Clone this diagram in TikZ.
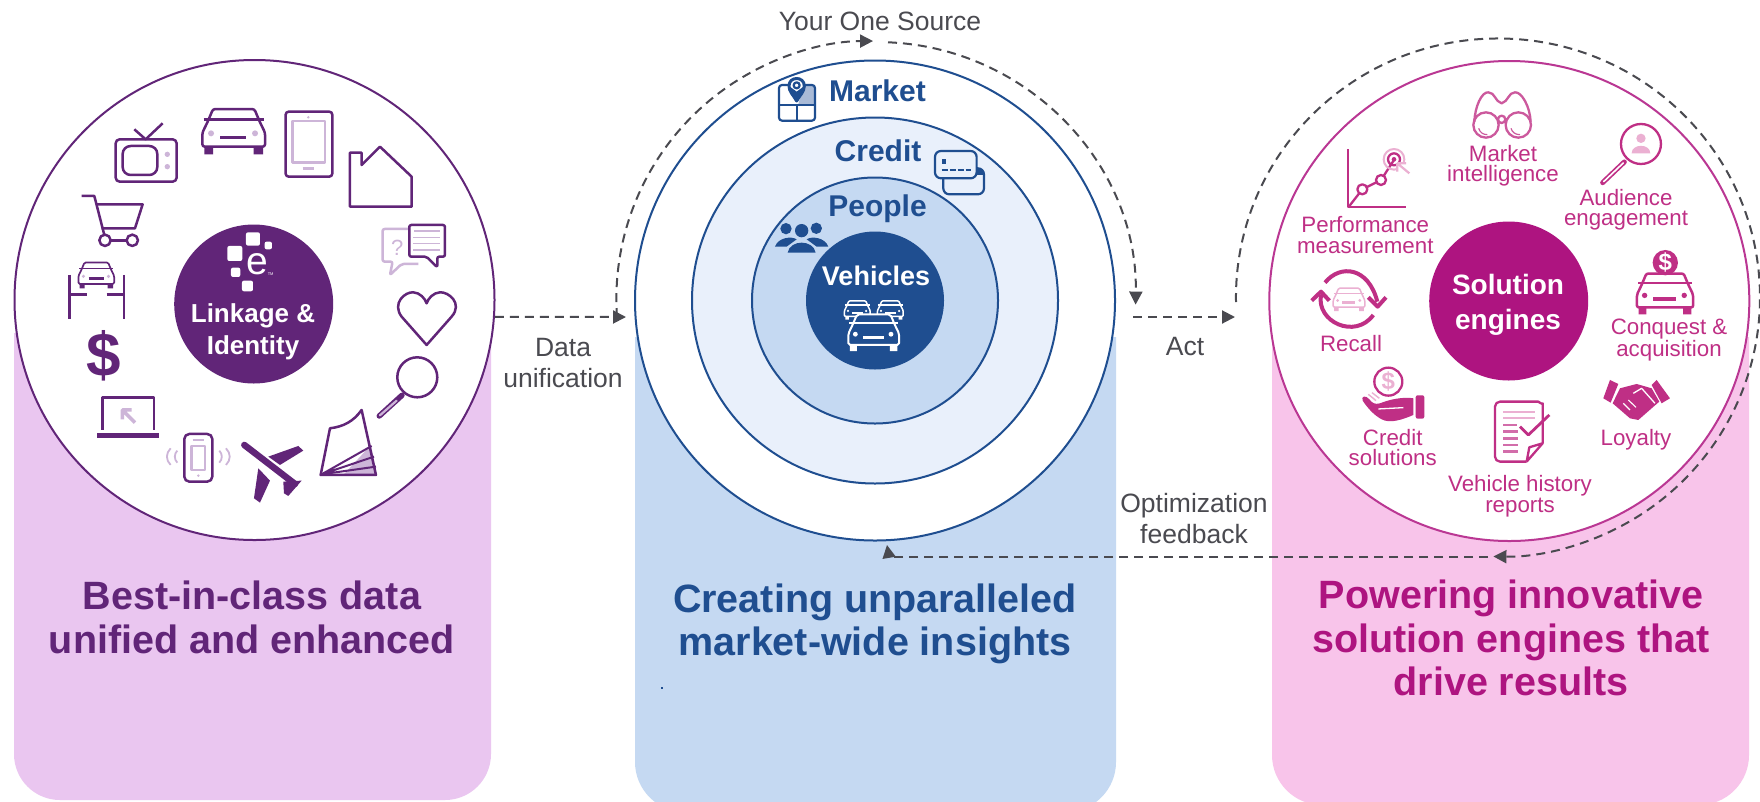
\documentclass[tikz,border=0pt]{standalone}
\usepackage{fontspec}
\setmainfont{Liberation Sans}
\usetikzlibrary{arrows.meta}
\definecolor{purp}{HTML}{612578}
\definecolor{purpl}{HTML}{CDB5D8}
\definecolor{purpp}{HTML}{EAC6F0}
\definecolor{blu}{HTML}{1F4E90}
\definecolor{blum}{HTML}{C5D9F2}
\definecolor{blul}{HTML}{E9F0FB}
\definecolor{blug}{HTML}{A9BAD6}
\definecolor{mag}{HTML}{AE1480}
\definecolor{magt}{HTML}{BF2F85}
\definecolor{magl}{HTML}{EBB0D2}
\definecolor{magp}{HTML}{F8C4EA}
\definecolor{gry}{HTML}{4A4A50}
\newcommand{\carfront}[7]{%
\begin{scope}[shift={(#1,#2)},x=#3pt,y=-#3pt,line width=#6pt,line join=round]
\filldraw[draw=#4,fill=#7,rounded corners=#3*7pt] (-94,47) -- (-94,5) -- (-78,-28) -- (-62,-66) -- (62,-66) -- (78,-28) -- (94,5) -- (94,47) -- cycle;
\draw[draw=#4] (-90,-35) -- (90,-35);
\fill[#4] (-88,47) rectangle (-62,70) (60,47) rectangle (88,70);
\fill[#5] (-68,7) circle[radius=9] (64,7) circle[radius=9];
\draw[draw=#4,line width=1.4*#6pt] (-40,19) -- (38,19);
\end{scope}}
\tikzset{
 discpurp/.style={circle,draw=purp,fill=white,line width=2pt,minimum size=480pt,inner sep=0pt},
 discblue/.style={circle,draw=blu,line width=2pt,inner sep=0pt},
 discmag/.style={circle,draw=mag!85!white,fill=white,line width=2pt,minimum size=480pt,inner sep=0pt},
 lab/.style={anchor=base,inner sep=0pt,align=center},
 graylab/.style={lab,text=gry,font=\fontsize{26.5}{31}\selectfont},
 maglab/.style={lab,text=magt,font=\fontsize{22.3}{20.5}\selectfont},
 titlepurp/.style={lab,text=purp,font=\bfseries\fontsize{39.5}{44}\selectfont},
 titleblue/.style={lab,text=blu,font=\bfseries\fontsize{39.5}{43}\selectfont},
 titlemag/.style={lab,text=mag,font=\bfseries\fontsize{39.5}{43.5}\selectfont},
 ringlab/.style={lab,text=blu,font=\bfseries\fontsize{30}{32}\selectfont},
 flow/.style={draw=gry,line width=2pt,dash pattern=on 9pt off 6pt},
 flowtip/.style={flow,-{Triangle[length=13pt,width=13pt,fill=gry]}},
 ico/.style={shift={(0,60)},x=0.3333pt,y=-0.3333pt,line join=round},
 zoomb/.style={shift={(620,0)},x=0.3333pt,y=-0.3333pt,line join=round},
 zoomc/.style={shift={(1240,60)},x=0.3333pt,y=-0.3333pt,line join=round},
}
\begin{document}
\begin{tikzpicture}[x=1pt,y=-1pt]
\useasboundingbox (0,0) rectangle (1760,801);
\fill[white] (0,0) rectangle (1760,801);
% panels
\fill[purpp] (14,333) {[rounded corners=46pt] -- (14,800) -- (491,800)} -- (491,333) -- cycle;
\fill[blum] (635,337) {[rounded corners=50pt] -- (635,812) -- (1116,812)} -- (1116,337) -- cycle;
\fill[magp] (1272,337) {[rounded corners=50pt] -- (1272,805) -- (1749,805)} -- (1749,337) -- cycle;
% discs
\node[discpurp] (src) at (254.5,300) {};
\node[discblue,fill=white,minimum size=480pt] (mkt) at (875,300.5) {};
\node[discblue,fill=blul,minimum size=366pt] (crd) at (875,300.5) {};
\node[discblue,fill=blum,minimum size=246pt] (ppl) at (875,300.5) {};
\node[circle,fill=blu,inner sep=0pt,minimum size=138pt] (veh) at (875,300.5) {};
\node[discmag] (sol) at (1509.3,301) {};
\node[circle,fill=purp,inner sep=0pt,minimum size=159pt] (lnk) at (253.7,304) {};
\node[circle,fill=mag,inner sep=0pt,minimum size=159pt] (eng) at (1508.7,301) {};
% connectors
\coordinate (duEnd) at (626,317);
\coordinate (arcA) at (617,317);
\coordinate (arcB) at (888,42.3);
\coordinate (actA) at (1133,317);
\coordinate (actB) at (1235,317);
\coordinate (bigA) at (1236,302);
\coordinate (fbA) at (1488,557);
\coordinate (fbB) at (889,557);
\coordinate (fbC) at (887,545);
\draw[flowtip] (src.-4) -- (duEnd);
\draw[flow,-{Triangle[length=13pt,width=13pt,fill=gry]}] (arcA) arc[start angle=184,end angle=90.3,radius=258pt];
\draw[flowtip] (arcB) arc[start angle=87.7,end angle=-1,radius=258pt];
\draw[flowtip] (actA) -- (actB);
\draw[flowtip] (bigA) arc[start angle=181,end angle=-91,x radius=262pt,y radius=259pt];
\draw[flowtip] (fbA) -- (fbB) -- (fbC);
% left icons
\begin{scope}[ico,draw=purp,line width=2.5pt]
 \draw[rounded corners=4pt] (347,238) rectangle (530,365);
 \draw[rounded corners=8pt] (368,258) rectangle (472,345);
 \draw (403,208) -- (437,238) -- (488,190);
 \fill[purpl] (502,283) circle[radius=8] (502,320) circle[radius=8];
 \draw[rounded corners=3pt] (857,155) rectangle (997,350);
 \draw[purpl] (878,183) rectangle (975,308);
 \fill[purpl] (925,172) circle[radius=4];
 \draw[purpl] (908,325) -- (943,325);
 \draw (1050,278) -- (1085,278) -- (1085,315) -- (1140,260) -- (1235,350) -- (1235,440) -- (1050,440) -- cycle;
 \draw[purpl,rounded corners=2pt] (1225,507) -- (1148,507) -- (1148,605) -- (1178,605) -- (1170,645) -- (1205,612) -- (1255,612);
 \node[text=purpl,font=\fontsize{22}{22}\selectfont,inner sep=0pt] (qmark) at (1192,562) {?};
 \draw[rounded corners=2pt] (1228,495) -- (1335,495) -- (1335,590) -- (1312,590) -- (1312,622) -- (1280,590) -- (1228,590) -- cycle;
 \draw[purpl,line width=1.6pt] (1243,513) -- (1320,513) (1240,532) -- (1320,532) (1240,551) -- (1320,551) (1240,570) -- (1320,570);
 \draw (1280,855) -- (1205,770) .. controls (1175,730) and (1215,695) .. (1240,697) .. controls (1260,698) and (1275,715) .. (1280,730) .. controls (1285,715) and (1300,698) .. (1320,697) .. controls (1345,695) and (1390,730) .. (1355,770) -- cycle;
 \draw (1252,952) circle[radius=60];
 \draw[line width=5.5pt,line cap=round] (1138,1068) -- (1206,1006);
 \draw[purpl,line width=2.2pt,line cap=round] (1140,1066) -- (1190,1022);
 \fill[purpl] (1030,1245) -- (1130,1245) -- (1113,1155) -- cycle;
 \draw (990,1105) .. controls (1030,1100) and (1060,1085) .. (1085,1050) -- (1128,1245) -- (962,1245) -- cycle;
 \draw[line width=2pt] (965,1243) -- (1115,1158) (965,1243) -- (1122,1190) (965,1243) -- (1128,1220);
 \draw[line width=6.5pt,line cap=round] (733,1155) -- (885,1272);
 \fill[purp] (805,1190) -- (895,1158) -- (910,1172) -- (840,1215) -- cycle;
 \fill[purp] (775,1225) -- (810,1262) -- (780,1328) -- (762,1315) -- cycle;
 \fill[purp] (850,1265) -- (905,1262) -- (865,1308) -- (852,1300) -- cycle;
 \draw[rounded corners=5pt] (553,1122) rectangle (637,1265);
 \draw[purpl] (575,1158) rectangle (615,1230);
 \draw[purpl] (578,1140) -- (612,1140);
 \fill[purpl] (595,1247) circle[radius=4];
 \draw[purpl,line width=1.8pt] (512,1165) .. controls (497,1180) and (497,1200) .. (512,1215) (532,1172) .. controls (522,1182) and (522,1198) .. (532,1208) (658,1172) .. controls (668,1182) and (668,1198) .. (658,1208) (678,1165) .. controls (693,1180) and (693,1200) .. (678,1215);
 \draw (308,1110) -- (308,1012) -- (462,1012) -- (462,1110);
 \draw[line width=4.5pt] (292,1126) -- (478,1126);
 \draw[purpl,line width=3.5pt] (405,1088) -- (367,1050) (367,1078) -- (367,1050) -- (395,1050);
 \draw (245,408) -- (283,408) -- (313,525);
 \draw (290,433) -- (428,433) -- (405,505) -- (305,505);
 \draw (315,541) circle[radius=17] (397,541) circle[radius=17];
 \draw (332,541) -- (380,541);
 \draw (208,645) -- (208,778) (372,645) -- (372,778) (208,703) -- (260,703) (320,703) -- (372,703);
 \node[text=purp,font=\bfseries\fontsize{62}{62}\selectfont,inner sep=0pt] (dollar) at (312,888) {\$};
 \fill[white,rounded corners=2pt] (738,517) rectangle (780,557) (794,545) rectangle (816,568) (682,558) rectangle (727,603) (693,623) rectangle (721,651) (726,662) rectangle (759,694);
 \node[text=white,font=\fontsize{39}{39}\selectfont,inner sep=0pt] (elogo) at (773,612) {e};
 \node[text=white,font=\fontsize{4}{4}\selectfont,inner sep=0pt] (tmark) at (812,642) {TM};
\end{scope}
\carfront{233.7}{131}{0.3333}{purp}{purpl}{2.5}{white}
\carfront{96.3}{275}{0.19}{purp}{purpl}{1.7}{white}
% middle icons
\begin{scope}[zoomb,draw=blu,line width=2.2pt]
 \fill[blug] (550,258) -- (585,258) -- (585,313) -- (535,313) -- cycle;
 \draw[rounded corners=3pt] (477,255) rectangle (585,362);
 \draw (530,315) -- (530,362) (477,315) -- (585,315);
 \filldraw[fill=white,line width=3pt] (530,303) .. controls (520,285) and (507,275) .. (507,258) .. controls (507,228) and (553,228) .. (553,258) .. controls (553,275) and (540,285) .. (530,303) -- cycle;
 \fill[blu] (530,303) .. controls (520,285) and (507,275) .. (507,258) -- (530,275) -- (553,258) .. controls (553,275) and (540,285) .. (530,303) -- cycle;
 \filldraw[fill=white] (530,256) circle[radius=9];
 \draw[fill=blul,rounded corners=6pt] (970,505) rectangle (1092,583);
 \fill[blu] (1070,507) rectangle (1090,525);
 \draw[fill=blul,rounded corners=6pt] (945,453) rectangle (1070,535);
 \fill[blu] (965,478) rectangle (978,492);
 \draw[dash pattern=on 6pt off 2pt] (965,510) -- (1052,510);
 \fill[blu] (498,686) circle[radius=17] (545,692) circle[radius=20] (589,685) circle[radius=17];
 \fill[blu] (465,740) .. controls (475,712) and (515,708) .. (530,718) -- (500,740) -- cycle;
 \fill[blu] (625,740) .. controls (615,712) and (575,708) .. (560,718) -- (590,740) -- cycle;
 \fill[blu] (503,758) .. controls (510,718) and (580,718) .. (587,758) -- cycle;
\end{scope}
\carfront{857.3}{310}{0.137}{white}{white}{1.5}{blu}
\carfront{890.3}{310}{0.137}{white}{white}{1.5}{blu}
\carfront{873.7}{332.3}{0.27}{white}{white}{2}{blu}
% right icons
\begin{scope}[zoomc,draw=magt,line width=2.3pt]
 \begin{scope}[draw=magt!80!white]
 \draw (738,195) circle[radius=38] (835,195) circle[radius=38] (785,178) circle[radius=11];
 \draw (703,185) .. controls (705,140) and (725,95) .. (745,97) .. controls (765,97) and (765,125) .. (785,130) .. controls (805,125) and (805,97) .. (825,97) .. controls (845,95) and (870,140) .. (872,185);
 \draw[line width=1.2pt] (716,205) .. controls (720,218) and (730,224) .. (742,224) (813,205) .. controls (817,218) and (827,224) .. (840,224);
 \end{scope}
 \draw (1203,252) circle[radius=60];
 \draw[line width=5pt,line cap=round] (1153,306) -- (1088,368);
 \draw[white,line width=1.6pt,line cap=round] (1150,309) -- (1091,365);
 \fill[magl] (1203,235) circle[radius=14] (1175,280) .. controls (1175,250) and (1231,250) .. (1231,280) -- cycle;
 \draw (325,268) -- (325,442) -- (497,442);
 \draw (325,442) -- (367,388) -- (423,360) -- (462,300);
 \draw[fill=white] (367,388) circle[radius=15] (423,360) circle[radius=15];
 \draw[magl,line width=2pt] (462,298) circle[radius=31];
 \draw (462,298) circle[radius=18];
 \fill[magt] (462,298) circle[radius=7];
 \fill[white] (472,305) rectangle (515,345);
 \draw[magl,line width=2.2pt] (508,340) -- (472,310) (472,335) -- (472,310) -- (498,310);
 \draw[line width=4pt] (255,668) .. controls (300,612) and (385,620) .. (412,725);
 \draw[line width=4pt] (243,705) .. controls (228,785) and (345,840) .. (400,765);
 \draw[line width=4pt] (385,712) -- (413,740) -- (438,712);
 \draw[line width=4pt] (215,722) -- (243,695) -- (268,722);
 \draw (445,965) circle[radius=42];
 \node[text=magl,font=\bfseries\fontsize{24}{24}\selectfont,inner sep=0pt] (csd) at (445,965) {\$};
 \fill[magt,rounded corners=2pt] (527,1006) rectangle (553,1076);
 \fill[magt] (368,1022) .. controls (362,1008) and (378,1005) .. (388,1018) .. controls (395,1028) and (405,1035) .. (420,1030) .. controls (450,1018) and (490,1010) .. (520,1015) -- (520,1065) .. controls (490,1078) and (450,1092) .. (425,1078) .. controls (400,1065) and (380,1040) .. (368,1022) -- cycle;
 \draw[white,line width=1.3pt] (415,1047) -- (490,1043);
 \draw[magl,line width=1.4pt] (385,1003) -- (408,1022) (396,998) -- (418,1015);
 \draw[rounded corners=5pt] (908,1150) -- (908,1045) .. controls (908,1035) and (895,1025) .. (880,1025) -- (765,1025) -- (765,1205) -- (860,1205);
 \draw (860,1205) -- (908,1150) -- (868,1162) -- (860,1205);
 \draw[magl,line width=2.2pt] (790,1055) -- (885,1055) (790,1074) -- (885,1074);
 \draw[magt!70!white,line width=2.4pt] (790,1095) -- (830,1095) (790,1115) -- (835,1115) (790,1135) -- (835,1135) (790,1155) -- (835,1155) (790,1175) -- (835,1175);
 \draw[line width=2.8pt] (840,1100) -- (865,1125) -- (928,1065);
 \fill[magt] (1110,960) -- (1135,972) -- (1112,1028) -- (1090,1015) -- cycle;
 \fill[magt] (1250,960) -- (1290,1015) -- (1265,1030) -- (1235,975) -- cycle;
 \fill[magt] (1140,985) -- (1190,972) -- (1235,985) -- (1258,1025) -- (1195,1080) -- (1170,1075) -- (1118,1030) -- cycle;
 \draw[white,line width=1.3pt] (1180,1000) -- (1205,985) -- (1245,1030);
 \draw[white,line width=1.1pt] (1150,1030) -- (1170,1050) (1165,1020) -- (1188,1042);
\end{scope}
\carfront{1349}{299.3}{0.168}{magl}{magl}{1.5}{white}
\carfront{1665}{293.3}{0.3}{magt}{magt}{2.5}{white}
\begin{scope}[zoomc]
 \fill[magt] (1276,608) circle[radius=38];
 \node[text=white,font=\bfseries\fontsize{24}{24}\selectfont,inner sep=0pt] (cqdb) at (1276,608) {\$};
\end{scope}
% texts
\node[lab,text=white,font=\bfseries\fontsize{26}{32}\selectfont] (tLnk) at (253,354) {Linkage \&\\Identity};
\node[lab,text=white,font=\bfseries\fontsize{28}{34.5}\selectfont] (tEng) at (1508,329) {Solution\\engines};
\node[graylab] (tYos) at (880,30.5) {Your One Source};
\node[graylab] (tDu) at (563,387) {Data\\unification};
\node[graylab] (tAct) at (1185,355) {Act};
\node[graylab] (tOf) at (1194,543) {Optimization\\feedback};
\node[ringlab] (tMkt) at (877.5,101.5) {Market};
\node[ringlab] (tCrd) at (878,161.5) {Credit};
\node[ringlab] (tPpl) at (877.5,216.5) {People};
\node[lab,text=white,font=\bfseries\fontsize{27}{27}\selectfont] (tVeh) at (876,285) {Vehicles};
\node[maglab] (tMi) at (1503,181.7) {Market\\intelligence};
\node[maglab] (tAe) at (1626,225.5) {Audience\\engagement};
\node[maglab] (tPm) at (1365.3,253) {Performance\\measurement};
\node[maglab] (tRc) at (1351,351) {Recall};
\node[maglab] (tCq) at (1669,356.5) {Conquest \&\\acquisition};
\node[maglab] (tCs) at (1392.7,465.5) {Credit\\solutions};
\node[maglab] (tVh) at (1520,512) {Vehicle history\\reports};
\node[maglab] (tLy) at (1636,445) {Loyalty};
\node[titlepurp] (tBest) at (252,653) {Best-in-class data\\unified and enhanced};
\node[titleblue] (tCre) at (875,655) {Creating unparalleled\\market-wide insights};
\node[titlemag] (tPow) at (1511,695.5) {Powering innovative\\solution engines that\\drive results};
\fill[blu] (661,686.5) rectangle (663,688.5);
\end{tikzpicture}
\end{document}
